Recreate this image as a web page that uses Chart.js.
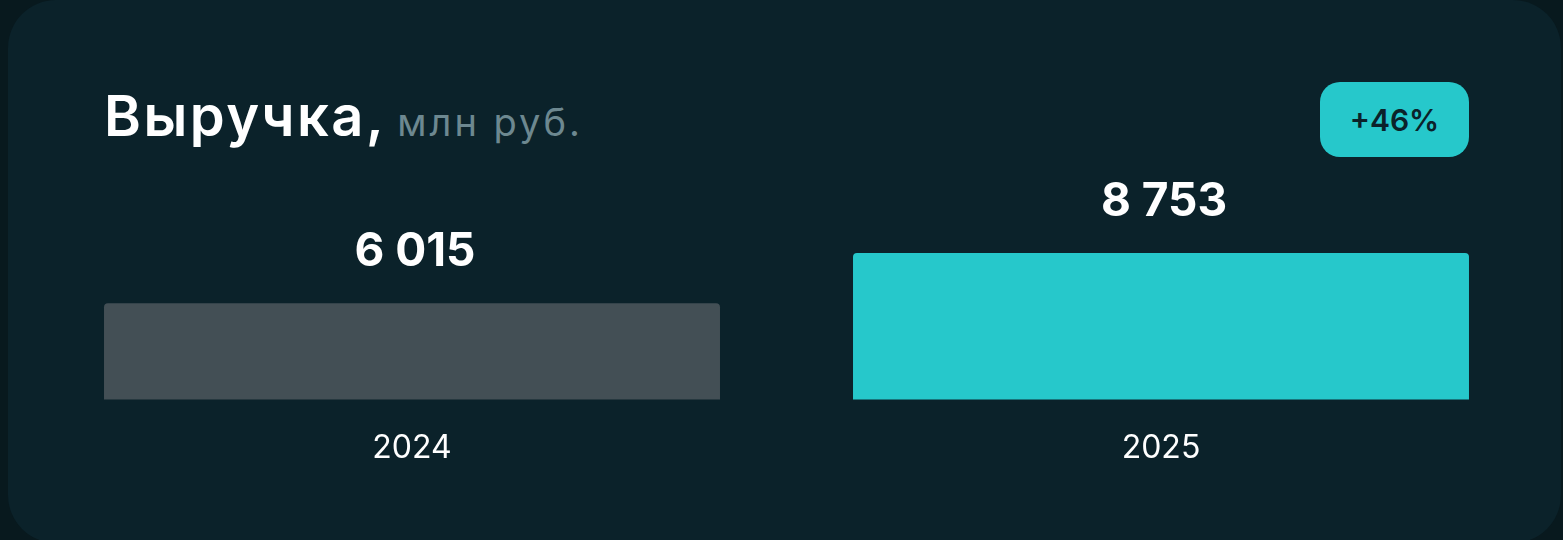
<!DOCTYPE html>
<html lang="ru">
<head>
<meta charset="utf-8">
<title>Выручка</title>
<script src="https://cdn.jsdelivr.net/npm/chart.js@4/dist/chart.umd.min.js"></script>
<style>
  html, body { margin: 0; padding: 0; }
  body {
    width: 1563px; height: 540px; overflow: hidden;
    background: #08191e; position: relative;
    font-family: Inter, "Noto Sans", sans-serif;
  }
  .card {
    position: absolute; left: 8px; top: 0; width: 1553px; height: 543px;
    background: #0b222a; border-radius: 48px;
  }
  .title {
    position: absolute; left: 104px; top: 88px;
    color: #ffffff; font-size: 56px; font-weight: 600; line-height: 1;
    white-space: nowrap; letter-spacing: 2.5px;
  }
  .title .unit {
    color: #6d8890; font-size: 38px; font-weight: 400; margin-left: 11px; letter-spacing: 3px;
  }
  .badge {
    position: absolute; left: 1320px; top: 82px; width: 149px; height: 75px;
    background: #26c8cb; border-radius: 20px;
    display: flex; align-items: center; justify-content: center;
    color: #0b222a; font-size: 30px; font-weight: 600;
  }
  .wrap { position: absolute; left: 0; top: 0; width: 1563px; height: 540px; }
</style>
</head>
<body>
<div class="card"></div>
<div class="title">Выручка,<span class="unit">млн руб.</span></div>
<div class="badge" id="badge"></div>
<div class="wrap"><canvas id="revChart"></canvas></div>
<script>
const years   = ['2024', '2025'];
const revenue = [6015, 8753];
const colors  = ['#434f55', '#26c8cb'];

function fmt(v) {
  return String(v).replace(/\B(?=(\d{3})+(?!\d))/g, ' ');
}

const growth = Math.round((revenue[1] / revenue[0] - 1) * 100);
document.getElementById('badge').textContent = '+' + growth + '%';

// value labels above bars
const valueLabels = {
  id: 'valueLabels',
  afterDatasetsDraw(chart) {
    const ctx = chart.ctx;
    const meta = chart.getDatasetMeta(0);
    ctx.save();
    ctx.fillStyle = '#ffffff';
    ctx.font = '700 46px Inter, "Noto Sans", sans-serif';
    ctx.textAlign = 'center';
    ctx.textBaseline = 'alphabetic';
    meta.data.forEach((bar, i) => {
      ctx.fillText(fmt(revenue[i]), bar.x + 3, bar.y - 37);
    });
    ctx.restore();
  }
};

const ctx = document.getElementById('revChart').getContext('2d');
new Chart(ctx, {
  type: 'bar',
  data: {
    labels: years,
    datasets: [{
      data: revenue,
      backgroundColor: colors,
      borderRadius: 4,
      categoryPercentage: 1,
      barPercentage: 0.8224
    }]
  },
  options: {
    responsive: true,
    maintainAspectRatio: false,
    animation: false,
    layout: { padding: { left: 37.5, right: 27.5, top: 253, bottom: 42 } },
    plugins: { legend: { display: false }, tooltip: { enabled: false } },
    scales: {
      x: {
        grid: { display: false, drawTicks: false },
        border: { display: false },
        ticks: { color: '#ffffff', padding: 30, font: { family: 'Inter', size: 32, weight: '400' } }
      },
      y: { display: false, min: 758, max: 8753 }
    }
  },
  plugins: [valueLabels]
});
</script>
</body>
</html>
